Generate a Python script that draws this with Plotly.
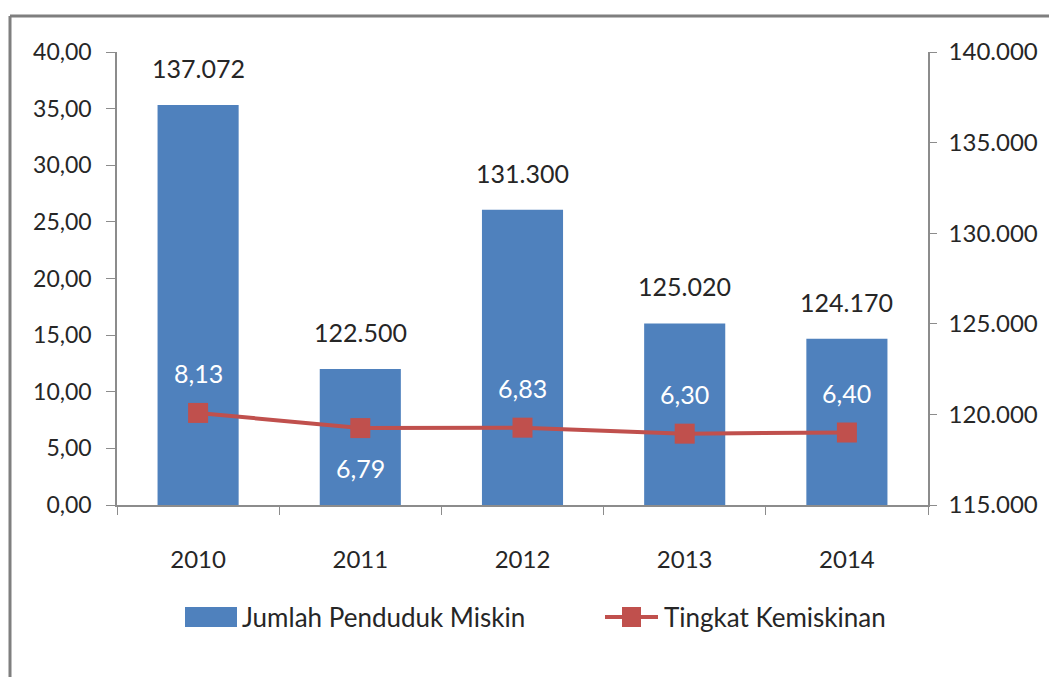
import plotly.graph_objects as go

years = ["2010", "2011", "2012", "2013", "2014"]
jumlah = [137072, 122500, 131300, 125020, 124170]
tingkat = [8.13, 6.79, 6.83, 6.30, 6.40]
tingkat_label_dir = [1, -1, 1, 1, 1]
legend_names = ["Jumlah Penduduk Miskin", "Tingkat Kemiskinan"]

BLUE = "#4F81BD"
RED = "#C0504D"
FONT = "Lato"
TXT = "#262626"
AX = "#8c8c8c"

fig = go.Figure()
fig.add_trace(go.Bar(x=years, y=jumlah, yaxis="y", name=legend_names[0],
                     marker=dict(color=BLUE, line=dict(width=0)), showlegend=False))
fig.add_trace(go.Scatter(x=years, y=tingkat, yaxis="y2", name=legend_names[1],
                         mode="lines+markers",
                         line=dict(color=RED, width=4),
                         marker=dict(symbol="square", size=20, color=RED), showlegend=False))

annotations = []
for i, v in enumerate(jumlah):
    annotations.append(dict(x=i, y=v, xref="x", yref="y", text=f"{v:,}".replace(",", "."),
                            showarrow=False, yshift=37, font=dict(family=FONT, size=25, color=TXT)))
for i, (v, d) in enumerate(zip(tingkat, tingkat_label_dir)):
    annotations.append(dict(x=i, y=v, xref="x", yref="y2", text=f"{v:.2f}".replace(".", ","),
                            showarrow=False, yshift=40 * d, font=dict(family=FONT, size=25, color="white")))

# custom legend (px -> paper helpers)
def px_x(p):
    return (p - 117) / 811

def px_y(p):
    return (505 - p) / 453

annotations.append(dict(x=px_x(240), y=px_y(617), xref="paper", yref="paper", xanchor="left",
                        yanchor="middle", showarrow=False, text=legend_names[0],
                        font=dict(family=FONT, size=26, color=TXT)))
annotations.append(dict(x=px_x(662), y=px_y(617), xref="paper", yref="paper", xanchor="left",
                        yanchor="middle", showarrow=False, text=legend_names[1],
                        font=dict(family=FONT, size=26, color=TXT)))

shapes = [
    dict(type="line", xref="paper", yref="paper", x0=px_x(10), x1=px_x(1060), y0=px_y(16), y1=px_y(16),
         line=dict(color="#7f7f7f", width=3)),
    dict(type="line", xref="paper", yref="paper", x0=px_x(10), x1=px_x(10), y0=px_y(16), y1=px_y(690),
         line=dict(color="#7f7f7f", width=3)),
    dict(type="rect", xref="paper", yref="paper", x0=px_x(185), x1=px_x(237), y0=px_y(607), y1=px_y(627),
         fillcolor=BLUE, line=dict(width=0)),
    dict(type="line", xref="paper", yref="paper", x0=px_x(605), x1=px_x(658), y0=px_y(617), y1=px_y(617),
         line=dict(color=RED, width=4)),
    dict(type="rect", xref="paper", yref="paper", x0=px_x(622), x1=px_x(641), y0=px_y(607), y1=px_y(627),
         fillcolor=RED, line=dict(width=0)),
]

fig.update_layout(
    width=1049, height=677,
    paper_bgcolor="white", plot_bgcolor="white",
    separators=",.",
    margin=dict(l=117, r=121, t=52, b=172, autoexpand=False),
    bargap=0.5,
    font=dict(family=FONT, size=23, color=TXT),
    showlegend=False,
    xaxis=dict(type="category", range=[-0.5, 4.5], autorange=False, showline=True,
               linecolor=AX, linewidth=1.5, ticks="outside",
               tickson="boundaries", ticklen=8, tickcolor=AX, tickangle=0,
               ticklabelstandoff=32,
               tickfont=dict(size=24, color=TXT), showgrid=False),
    yaxis=dict(range=[115000, 140000], dtick=5000, tickformat=",d", side="right",
               showline=True, linecolor=AX, linewidth=1.5, ticks="outside", ticklen=7,
               tickcolor=AX, showgrid=False, zeroline=False, ticklabelstandoff=7,
               tickfont=dict(size=24, color=TXT)),
    yaxis2=dict(range=[0, 40], dtick=5, tickformat=".2f", side="left", overlaying="y",
                showline=True, linecolor=AX, linewidth=1.5, ticks="outside", ticklen=9,
                tickcolor=AX, showgrid=False, zeroline=False, ticklabelstandoff=10,
                tickfont=dict(size=23, color=TXT)),
    annotations=annotations,
    shapes=shapes,
)

fig.write_html("out.html", config={"displayModeBar": False},
               post_script="document.body.style.margin='0';")
